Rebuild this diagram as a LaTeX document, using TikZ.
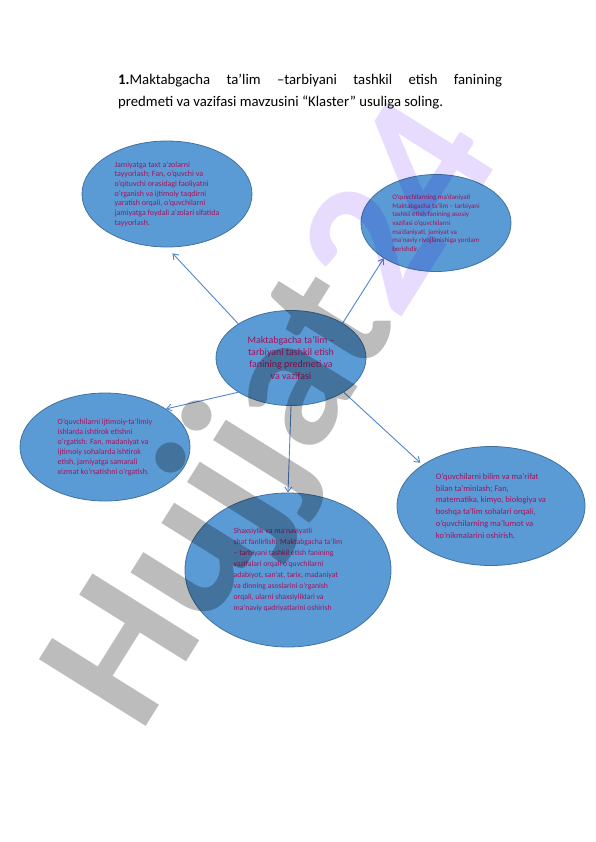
\documentclass[tikz,border=0pt]{standalone}
\usepackage{fontspec}
\setmainfont{Carlito}
\usetikzlibrary{shapes.geometric,arrows.meta}
\definecolor{bubblefill}{RGB}{91,155,213}
\definecolor{bubbleline}{RGB}{65,113,156}
\definecolor{bubbletext}{RGB}{165,18,92}
\definecolor{arrowblue}{RGB}{79,135,200}
\definecolor{markgray}{RGB}{188,188,188}
\definecolor{markviolet}{RGB}{232,220,254}

\begin{document}
\begin{tikzpicture}[x=1bp, y=-1bp,
    bubble/.style={ellipse, draw=bubbleline, fill=bubblefill, line width=0.8bp,
        inner sep=0pt, text=bubbletext, align=left},
    link/.style={draw=arrowblue, line width=0.9bp, -{Straight Barb[length=5bp,width=7bp]}}]
    \useasboundingbox (0,0) rectangle (596,842);
    \node[anchor=north west, inner sep=0pt, text width=384bp, align=justify,
        font=\fontsize{14.8}{22}\selectfont] (title) at (118,74)
        {\textbf{1.}Maktabgacha ta'lim –tarbiyani tashkil etish fanining\linebreak
        predmeti va vazifasi mavzusini “Klaster” usuliga soling.};
    % klaster
    \node[bubble, minimum width=170bp, minimum height=106bp,
        font=\fontsize{8}{9.7}\selectfont] (jamiyat) at (167,194)
        {Jamiyatga taxt a'zolarni\\tayyorlash; Fan, o'quvchi va\\o'qituvchi orasidagi faoliyatni\\o'rganish va ijtimoiy taqdirni\\yaratish orqali, o'quvchilarni\\jamiyatga foydali a'zolari sifatida\\tayyorlash.};
    \node[bubble, minimum width=150bp, minimum height=97bp,
        font=\fontsize{7}{8.7}\selectfont] (madaniyat) at (436,223)
        {O'quvchilarning ma'daniyati\\Maktabgacha ta'lim – tarbiyani\\tashkil etish fanining asosiy\\vazifasi o'quvchilarni\\ma'daniyati, jamiyat va\\ma'naviy rivojlanishiga yordam\\berishdir.};
    \node[bubble, minimum width=150bp, minimum height=95bp, align=center,
        font=\fontsize{10}{12.3}\selectfont] (markaz) at (291,358)
        {Maktabgacha ta'lim –\\tarbiyani tashkil etish\\fanining predmeti va\\va vazifasi};
    \node[bubble, minimum width=170bp, minimum height=108bp,
        font=\fontsize{8}{10}\selectfont] (ijtimoiy) at (105,447)
        {O'quvchilarni ijtimoiy-ta'limiy\\ishlarda ishtirok etishni\\o'rgatish: Fan, madaniyat va\\ijtimoiy sohalarda ishtirok\\etish, jamiyatga samarali\\xizmat ko'rsatishni o'rgatish.};
    \node[bubble, minimum width=188bp, minimum height=119bp,
        font=\fontsize{8.5}{12}\selectfont] (bilim) at (491,506)
        {O'quvchilarni bilim va ma'rifat\\bilan ta'minlash; Fan,\\matematika, kimyo, biologiya va\\boshqa ta'lim sohalari orqali,\\o'quvchilarning ma'lumot va\\ko'nikmalarini oshirish.};
    \node[bubble, minimum width=206bp, minimum height=154bp,
        font=\fontsize{7.8}{11}\selectfont] (shaxs) at (288,570)
        {Shaxsiylik va ma'naviyatli\\shat fanlirlish: Maktabgacha ta'lim\\– tarbiyani tashkil etish fanining\\vazifalari orqali o'quvchilarni\\adabiyot, san'at, tarix, madaniyat\\va dinning asoslarini o'rganish\\orqali, ularni shaxsiyliklari va\\ma'naviy qadriyatlarini oshirish};
    % strelkalar
    \draw[link, shorten >=8bp] (markaz.147) -- (jamiyat.south);
    \draw[link] (markaz.34) -- (madaniyat.214);
    \draw[link] (markaz.213) -- (ijtimoiy.32);
    \draw[link] (markaz.south) -- (shaxs.north);
    \draw[link, shorten >=3bp] (markaz.-33) -- (bilim.149);
    % suv belgisi
    \begin{scope}[blend mode=multiply]
    \node[rotate=58, anchor=base west, inner sep=0pt,
        font=\fontsize{195}{195}\selectfont\bfseries] (belgi) at (140,736)
        {\textcolor{markgray}{Hujjat}\textcolor{markviolet}{24}};
    \end{scope}
\end{tikzpicture}
\end{document}
